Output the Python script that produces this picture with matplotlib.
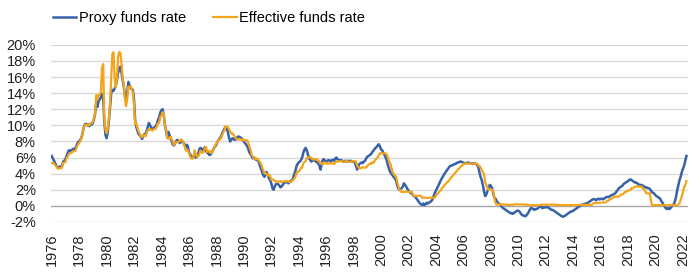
import pandas as pd
import matplotlib.pyplot as plt

# monthly values, Jul 1976 - Oct 2022 (percent)
effective_rate = [
    5.31, 5.29, 5.25, 5.02, 4.95, 4.65,  # 1976 H2
    4.61, 4.68, 4.69, 4.73, 5.35, 5.39, 5.42, 5.90, 6.14, 6.47, 6.51, 6.56,  # 1977
    6.70, 6.78, 6.79, 6.89, 7.36, 7.60, 7.81, 8.04, 8.45, 8.96, 9.76, 10.03,  # 1978
    10.07, 10.06, 10.09, 10.01, 10.24, 10.29, 10.47, 10.94, 11.43, 13.77, 13.18, 13.78,  # 1979
    13.82, 14.13, 17.19, 17.61, 10.98, 9.47, 9.03, 9.61, 10.87, 12.81, 15.85, 18.90,  # 1980
    19.08, 15.93, 14.70, 15.72, 18.52, 19.10, 19.04, 17.82, 15.87, 15.08, 13.31, 12.37,  # 1981
    13.22, 14.78, 14.68, 14.94, 14.45, 14.15, 12.59, 10.12, 10.31, 9.71, 9.20, 8.95,  # 1982
    8.68, 8.51, 8.77, 8.80, 8.63, 8.98, 9.37, 9.56, 9.45, 9.48, 9.34, 9.47,  # 1983
    9.56, 9.59, 9.91, 10.29, 10.32, 11.06, 11.23, 11.64, 11.30, 9.99, 9.43, 8.38,  # 1984
    8.35, 8.50, 8.58, 8.27, 7.97, 7.53, 7.88, 7.90, 7.92, 7.99, 8.05, 8.27,  # 1985
    8.14, 7.86, 7.48, 6.99, 6.85, 6.92, 6.56, 6.17, 5.89, 5.85, 6.04, 6.91,  # 1986
    6.43, 6.10, 6.13, 6.37, 6.85, 6.73, 6.58, 6.73, 7.22, 7.29, 6.69, 6.77,  # 1987
    6.83, 6.58, 6.58, 6.87, 7.09, 7.51, 7.75, 8.01, 8.19, 8.30, 8.35, 8.76,  # 1988
    9.12, 9.36, 9.85, 9.84, 9.81, 9.53, 9.24, 8.99, 9.02, 8.84, 8.55, 8.45,  # 1989
    8.23, 8.24, 8.28, 8.26, 8.18, 8.29, 8.15, 8.13, 8.20, 8.11, 7.81, 7.31,  # 1990
    6.91, 6.25, 6.12, 5.91, 5.78, 5.90, 5.82, 5.66, 5.45, 5.21, 4.81, 4.43,  # 1991
    4.03, 4.06, 3.98, 3.73, 3.82, 3.76, 3.25, 3.30, 3.22, 3.10, 3.09, 2.92,  # 1992
    3.02, 3.03, 3.07, 2.96, 3.00, 3.04, 3.06, 3.03, 3.09, 2.99, 3.02, 2.96,  # 1993
    3.05, 3.25, 3.34, 3.56, 4.01, 4.25, 4.26, 4.47, 4.73, 4.76, 5.29, 5.45,  # 1994
    5.53, 5.92, 5.98, 6.05, 6.01, 6.00, 5.85, 5.74, 5.80, 5.76, 5.80, 5.60,  # 1995
    5.56, 5.22, 5.31, 5.22, 5.24, 5.27, 5.40, 5.22, 5.30, 5.24, 5.31, 5.29,  # 1996
    5.25, 5.19, 5.39, 5.51, 5.50, 5.56, 5.52, 5.54, 5.54, 5.50, 5.52, 5.50,  # 1997
    5.56, 5.51, 5.49, 5.45, 5.49, 5.56, 5.54, 5.55, 5.51, 5.07, 4.83, 4.68,  # 1998
    4.63, 4.76, 4.81, 4.74, 4.74, 4.76, 4.99, 5.07, 5.22, 5.20, 5.42, 5.30,  # 1999
    5.45, 5.73, 5.85, 6.02, 6.27, 6.53, 6.54, 6.50, 6.52, 6.51, 6.51, 6.40,  # 2000
    5.98, 5.49, 5.31, 4.80, 4.21, 3.97, 3.77, 3.65, 3.07, 2.49, 2.09, 1.82,  # 2001
    1.73, 1.74, 1.73, 1.75, 1.75, 1.75, 1.73, 1.74, 1.75, 1.75, 1.34, 1.24,  # 2002
    1.24, 1.26, 1.25, 1.26, 1.26, 1.22, 1.01, 1.03, 1.01, 1.01, 1.00, 0.98,  # 2003
    1.00, 1.01, 1.00, 1.00, 1.00, 1.03, 1.26, 1.43, 1.61, 1.76, 1.93, 2.16,  # 2004
    2.28, 2.50, 2.63, 2.79, 3.00, 3.04, 3.26, 3.50, 3.62, 3.78, 4.00, 4.16,  # 2005
    4.29, 4.49, 4.59, 4.79, 4.94, 4.99, 5.24, 5.25, 5.25, 5.25, 5.25, 5.24,  # 2006
    5.25, 5.26, 5.26, 5.25, 5.25, 5.25, 5.26, 5.02, 4.94, 4.76, 4.49, 4.24,  # 2007
    3.94, 2.98, 2.61, 2.28, 1.98, 2.00, 2.01, 2.00, 1.81, 0.97, 0.39, 0.16,  # 2008
    0.15, 0.22, 0.18, 0.15, 0.18, 0.21, 0.16, 0.16, 0.15, 0.12, 0.12, 0.12,  # 2009
    0.11, 0.13, 0.16, 0.20, 0.20, 0.18, 0.18, 0.19, 0.19, 0.19, 0.19, 0.18,  # 2010
    0.17, 0.16, 0.14, 0.10, 0.09, 0.09, 0.07, 0.10, 0.08, 0.07, 0.08, 0.07,  # 2011
    0.08, 0.10, 0.13, 0.14, 0.16, 0.16, 0.16, 0.13, 0.14, 0.16, 0.16, 0.16,  # 2012
    0.14, 0.15, 0.14, 0.15, 0.11, 0.09, 0.09, 0.08, 0.08, 0.09, 0.08, 0.09,  # 2013
    0.07, 0.07, 0.08, 0.09, 0.09, 0.10, 0.09, 0.09, 0.09, 0.09, 0.09, 0.12,  # 2014
    0.11, 0.11, 0.11, 0.12, 0.12, 0.13, 0.13, 0.14, 0.14, 0.12, 0.12, 0.24,  # 2015
    0.34, 0.38, 0.36, 0.37, 0.37, 0.38, 0.39, 0.40, 0.40, 0.40, 0.41, 0.54,  # 2016
    0.65, 0.66, 0.79, 0.90, 0.91, 1.04, 1.15, 1.16, 1.15, 1.15, 1.16, 1.30,  # 2017
    1.41, 1.42, 1.51, 1.69, 1.70, 1.82, 1.91, 1.91, 1.95, 2.19, 2.20, 2.27,  # 2018
    2.40, 2.40, 2.41, 2.42, 2.39, 2.38, 2.40, 2.13, 2.04, 1.83, 1.55, 1.55,  # 2019
    1.55, 1.58, 0.65, 0.05, 0.05, 0.08, 0.09, 0.10, 0.09, 0.09, 0.09, 0.09,  # 2020
    0.09, 0.08, 0.07, 0.07, 0.06, 0.08, 0.10, 0.09, 0.08, 0.08, 0.08, 0.08,  # 2021
    0.08, 0.08, 0.20, 0.33, 0.77, 1.21, 1.68, 2.33, 2.56, 3.08,  # 2022
]

proxy_rate = [
    6.2, 5.9, 5.6, 5.3, 5.0, 4.8,  # 1976 H2
    4.7, 4.9, 4.8, 4.9, 5.5, 5.6, 5.8, 6.2, 6.6, 6.9, 6.8, 6.9,  # 1977
    7.0, 7.1, 7.0, 7.2, 7.6, 7.9, 8.0, 8.2, 8.5, 9.0, 9.8, 10.1,  # 1978
    10.2, 10.0, 10.1, 9.9, 10.2, 10.1, 10.3, 10.8, 11.5, 12.9, 12.3, 13.0,  # 1979
    13.2, 13.5, 13.9, 13.4, 10.5, 8.8, 8.4, 9.2, 10.6, 12.2, 14.0, 14.4,  # 1980
    14.3, 14.6, 14.9, 15.6, 16.5, 17.0, 17.3, 16.6, 15.6, 14.9, 13.6, 13.2,  # 1981
    14.0, 15.4, 15.0, 14.6, 14.5, 14.4, 13.2, 10.6, 9.8, 9.3, 8.9, 8.8,  # 1982
    8.6, 8.3, 8.7, 8.9, 8.9, 9.3, 9.8, 10.3, 10.0, 9.7, 9.5, 9.6,  # 1983
    9.8, 9.9, 10.2, 10.7, 11.0, 11.6, 11.9, 12.0, 11.2, 10.0, 9.2, 8.5,  # 1984
    9.2, 8.8, 8.4, 8.0, 7.6, 7.5, 7.8, 8.1, 8.2, 8.0, 7.8, 8.0,  # 1985
    8.0, 7.9, 7.6, 7.3, 7.6, 7.4, 6.7, 6.4, 6.2, 6.0, 6.0, 6.4,  # 1986
    6.0, 6.1, 6.3, 7.0, 7.2, 7.1, 6.9, 7.0, 7.3, 6.8, 6.6, 6.5,  # 1987
    6.3, 6.4, 6.6, 6.9, 7.2, 7.4, 7.6, 8.0, 8.2, 8.4, 8.6, 9.0,  # 1988
    9.3, 9.6, 9.8, 9.6, 9.2, 8.5, 8.0, 8.2, 8.4, 8.3, 8.2, 8.3,  # 1989
    8.5, 8.6, 8.6, 8.5, 8.4, 8.3, 8.0, 7.8, 7.6, 7.4, 7.0, 6.6,  # 1990
    6.4, 6.1, 5.9, 6.0, 5.8, 5.7, 5.7, 5.5, 5.0, 4.6, 4.2, 3.8,  # 1991
    3.6, 4.1, 4.2, 3.8, 3.4, 3.2, 2.8, 2.2, 2.0, 2.4, 2.7, 2.8,  # 1992
    2.7, 2.5, 2.3, 2.4, 2.6, 2.8, 2.9, 3.0, 2.9, 2.8, 3.0, 3.1,  # 1993
    3.2, 3.4, 3.9, 4.3, 4.9, 5.2, 5.4, 5.5, 5.7, 6.0, 6.6, 7.0,  # 1994
    7.2, 6.9, 6.4, 5.9, 5.7, 5.5, 5.6, 5.8, 5.6, 5.5, 5.4, 5.3,  # 1995
    5.0, 4.5, 5.2, 5.7, 5.8, 5.6, 5.5, 5.6, 5.7, 5.6, 5.5, 5.7,  # 1996
    5.7, 5.6, 5.9, 6.0, 5.8, 5.7, 5.6, 5.7, 5.6, 5.5, 5.6, 5.5,  # 1997
    5.6, 5.5, 5.6, 5.5, 5.6, 5.5, 5.5, 5.4, 5.0, 4.5, 4.8, 5.2,  # 1998
    5.3, 5.4, 5.3, 5.5, 5.6, 5.9, 6.1, 6.2, 6.3, 6.4, 6.6, 6.8,  # 1999
    7.0, 7.2, 7.3, 7.5, 7.65, 7.4, 7.0, 6.9, 6.6, 6.3, 6.0, 5.6,  # 2000
    5.0, 4.6, 4.2, 4.0, 3.8, 3.6, 3.4, 3.2, 2.6, 2.2, 2.0, 2.1,  # 2001
    2.2, 2.4, 2.8, 2.6, 2.4, 2.1, 1.9, 1.7, 1.6, 1.5, 1.3, 1.2,  # 2002
    1.1, 0.9, 0.7, 0.5, 0.3, 0.2, 0.1, 0.3, 0.1, 0.2, 0.4, 0.3,  # 2003
    0.4, 0.5, 0.6, 0.8, 1.2, 1.6, 1.9, 2.2, 2.5, 2.8, 3.1, 3.4,  # 2004
    3.6, 3.9, 4.1, 4.3, 4.5, 4.7, 4.9, 5.0, 5.0, 5.1, 5.2, 5.2,  # 2005
    5.3, 5.4, 5.4, 5.5, 5.5, 5.4, 5.4, 5.3, 5.3, 5.3, 5.4, 5.3,  # 2006
    5.3, 5.3, 5.2, 5.3, 5.3, 5.2, 5.1, 4.8, 4.2, 3.6, 3.2, 2.6,  # 2007
    1.8, 1.2, 1.4, 1.8, 2.2, 2.6, 2.5, 2.2, 1.6, 1.0, 0.9, 0.6,  # 2008
    0.4, 0.3, 0.2, 0.0, -0.2, -0.3, -0.4, -0.5, -0.6, -0.7, -0.8, -0.9,  # 2009
    -0.9, -1.0, -0.9, -0.8, -0.7, -0.6, -0.6, -0.7, -0.9, -1.1, -1.2, -1.2,  # 2010
    -1.3, -1.2, -1.0, -0.8, -0.5, -0.3, -0.3, -0.4, -0.5, -0.4, -0.4, -0.3,  # 2011
    -0.2, -0.1, -0.1, -0.3, -0.2, -0.2, -0.2, -0.1, -0.2, -0.3, -0.4, -0.5,  # 2012
    -0.5, -0.6, -0.7, -0.8, -0.9, -1.0, -1.1, -1.2, -1.3, -1.35, -1.3, -1.2,  # 2013
    -1.1, -1.0, -0.9, -0.8, -0.7, -0.7, -0.6, -0.5, -0.4, -0.3, -0.2, -0.1,  # 2014
    0.0, 0.1, 0.1, 0.2, 0.2, 0.3, 0.3, 0.4, 0.5, 0.6, 0.7, 0.8,  # 2015
    0.85, 0.8, 0.7, 0.8, 0.9, 0.8, 0.85, 0.9, 0.8, 0.9, 1.0, 1.1,  # 2016
    1.1, 1.1, 1.2, 1.3, 1.35, 1.4, 1.5, 1.6, 1.8, 2.0, 2.2, 2.3,  # 2017
    2.4, 2.5, 2.7, 2.8, 2.9, 3.0, 3.1, 3.2, 3.3, 3.2, 3.1, 3.0,  # 2018
    2.9, 2.9, 2.8, 2.7, 2.6, 2.6, 2.6, 2.5, 2.4, 2.3, 2.3, 2.2,  # 2019
    2.2, 2.1, 1.9, 1.7, 1.6, 1.5, 1.3, 1.2, 1.1, 1.0, 0.9, 0.6,  # 2020
    0.4, 0.1, -0.1, -0.3, -0.4, -0.3, -0.4, -0.3, -0.1, 0.1, 0.2, 0.6,  # 2021
    1.2, 2.0, 2.6, 3.2, 3.6, 4.2, 4.6, 5.0, 5.6, 6.2,  # 2022
]

tick_years = list(range(1976, 2023, 2))
y_ticks = list(range(-2, 21, 2))

blue = '#3762a8'
orange = '#f2a51a'

plt.rcParams['font.family'] = ['Liberation Sans', 'DejaVu Sans']

eff_dates = pd.date_range('1976-07-01', periods=len(effective_rate), freq='MS')
proxy_dates = pd.date_range('1976-07-01', periods=len(proxy_rate), freq='MS')

fig = plt.figure(figsize=(7, 2.72), dpi=100)
ax = fig.add_axes([0.073, 0.184, 0.910, 0.651])

# horizontal grid
for v in y_ticks:
    ax.axhline(v, color='#a6a6a6' if v == 0 else '#d9d9d9', lw=1.0, zorder=0)

ax.plot(proxy_dates, proxy_rate, color=blue, lw=1.8, label='Proxy funds rate')
ax.plot(eff_dates, effective_rate, color=orange, lw=1.6, label='Effective funds rate')

ax.set_ylim(-2, 20)
ax.set_xlim(pd.Timestamp('1976-06-15'), pd.Timestamp('2022-11-15'))
ax.set_yticks(y_ticks)
ax.set_yticklabels([f'{v}%' for v in y_ticks], fontsize=10.5, color='#222222')
ax.set_xticks([pd.Timestamp(f'{y}-07-01') for y in tick_years])
ax.set_xticklabels([str(y) for y in tick_years], rotation=90, fontsize=10.5, color='#222222')
ax.tick_params(axis='y', length=0, pad=11)
ax.tick_params(axis='x', length=0, pad=8)
for s in ax.spines.values():
    s.set_visible(False)

fig.legend(loc='upper left', bbox_to_anchor=(0.057, 1.009), ncol=2, frameon=False,
           fontsize=10.5, handlelength=1.6, handletextpad=0.15, columnspacing=1.9)

fig.savefig('out.png', dpi=100)
